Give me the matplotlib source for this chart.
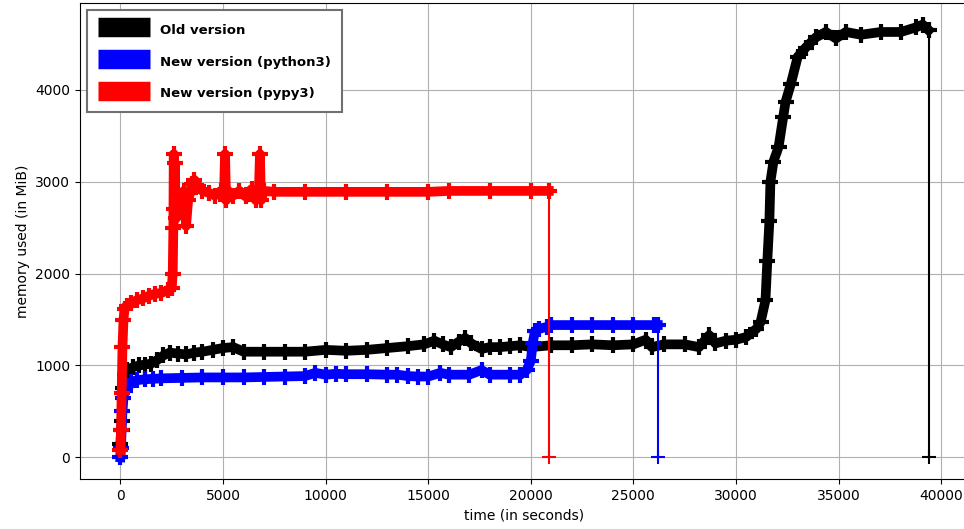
import matplotlib
matplotlib.use("Agg")
import matplotlib.pyplot as plt

# memory samples (time in s, memory in MiB), last pair is the drop at exit
old_t = [0, 60, 120, 200, 300, 600, 900, 1200, 1500, 1800, 2100, 2400, 2800,
         3200, 3600, 4000, 4500, 5000, 5500, 6000, 7000, 8000, 9000, 10000,
         11000, 12000, 13000, 14000, 14800, 15300, 15700, 16100, 16500, 16800,
         17100, 17600, 18000, 18500, 19000, 19500, 20000, 21000, 22000, 23000,
         24000, 25000, 25600, 25900, 26500, 27500, 28200, 28700, 29000, 29500,
         30000, 30500, 31000, 31200, 31440, 31530, 31630, 31680, 31830, 32080,
         32300, 32420, 32670, 33010, 33400, 33890, 34380, 34870, 35360, 36090,
         37060, 38040, 38770, 39100, 39390, 39390]
old_mem = [150, 400, 750, 900, 950, 980, 1000, 1010, 1020, 1060, 1110, 1140, 1130,
           1120, 1140, 1150, 1170, 1190, 1200, 1150, 1150, 1150, 1150, 1170,
           1160, 1170, 1190, 1210, 1230, 1270, 1230, 1200, 1260, 1300,
           1240, 1180, 1200, 1200, 1210, 1220, 1200, 1220, 1220, 1230,
           1220, 1230, 1280, 1200, 1230, 1230, 1200, 1330, 1240, 1270,
           1280, 1310, 1400, 1470, 1710, 2140, 2570, 3000, 3220, 3380,
           3700, 3870, 4060, 4360, 4460, 4570, 4630, 4560, 4630, 4600,
           4630, 4630, 4680, 4710, 4650, 0]

py3_t = [0, 30, 60, 100, 150, 200, 300, 500, 800, 1200, 1600, 2000, 3000, 4000,
         5000, 6000, 7000, 8000, 9000, 9500, 10000, 10500, 11000, 12000, 13000,
         13500, 14000, 14500, 15000, 15600, 16000, 17000, 17600, 18000, 19000,
         19500, 19800, 20000, 20100, 20200, 20400, 20800, 21000, 22000, 23000,
         24000, 25000, 26000, 26190, 26190]
py3_mem = [0, 100, 300, 500, 650, 720, 780, 820, 840, 850, 855, 860, 865, 870,
           870, 870, 875, 880, 885, 920, 900, 910, 905, 905, 900,
           900, 885, 880, 880, 920, 900, 900, 950, 900, 900,
           900, 950, 1050, 1250, 1370, 1400, 1420, 1440, 1440, 1440,
           1440, 1440, 1440, 1440, 0]

pypy_t = [0, 30, 60, 100, 150, 200, 300, 500, 800, 1100, 1400, 1700, 2000, 2300,
          2500, 2550, 2580, 2600, 2620, 2650, 2700, 2750, 2800, 2900, 3000, 3100,
          3200, 3300, 3400, 3500, 3600, 3800, 4000, 4300, 4600, 4900, 5050, 5100,
          5150, 5250, 5500, 5800, 6100, 6400, 6600, 6750, 6800, 6850, 7000, 7500,
          9000, 11000, 13000, 15000, 16000, 18000, 20000, 20880, 20880]
pypy_mem = [80, 300, 700, 1200, 1500, 1620, 1650, 1680, 1710, 1730, 1760, 1780,
            1790, 1820, 1840, 2000, 2500, 3300, 2700, 3200, 2600, 2850, 2780, 2820,
            2700, 2900, 2520, 2800, 2880, 2980, 3020, 2950, 2900, 2880, 2850, 2900,
            2880, 3300, 2800, 2900, 2850, 2900, 2840, 2920, 2800, 2900, 3300, 2800,
            2900, 2890, 2890, 2890, 2890, 2890, 2900, 2900, 2900, 2900, 0]

series = [
    (old_t, old_mem, "black", "Old version"),
    (py3_t, py3_mem, "blue", "New version (python3)"),
    (pypy_t, pypy_mem, "red", "New version (pypy3)"),
]

fig = plt.figure(figsize=(9.64, 5.29), dpi=100)
ax = fig.add_axes([80 / 964, 50 / 529, 889 / 964, 476 / 529])

handles = []
for t, mem, color, label in series:
    # sampled run: thick band of '+' markers
    line, = ax.plot(t[:-1], mem[:-1], "+-", color=color, lw=7,
                    ms=12, mew=3, label=label)
    # exit: thin drop back to zero
    ax.plot(t[-2:], mem[-2:], "+-", color=color, lw=1.5, ms=10, mew=1.5)
    handles.append(line)

ax.grid(True, color="#b0b0b0", lw=0.8)
ax.set_axisbelow(True)
ax.set_xlabel("time (in seconds)", fontsize=10)
ax.set_ylabel("memory used (in MiB)", fontsize=10)
ax.set_xticks([0, 5000, 10000, 15000, 20000, 25000, 30000, 35000, 40000])
ax.set_yticks([0, 1000, 2000, 3000, 4000])
ax.spines["right"].set_visible(False)

leg = ax.legend(handles=handles, loc="upper left", fancybox=False,
                framealpha=1, edgecolor="#707070", handlelength=3.95,
                handleheight=1.5, handletextpad=0.75, labelspacing=1.2,
                borderaxespad=0.53, borderpad=0.85,
                prop={"weight": "bold", "size": 9.5})
leg.get_frame().set_linewidth(1.5)
for hl in leg.get_lines():
    hl.set_linewidth(14)
    hl.set_solid_capstyle("butt")
    hl.set_marker("")

fig.savefig("out.png", dpi=100)
